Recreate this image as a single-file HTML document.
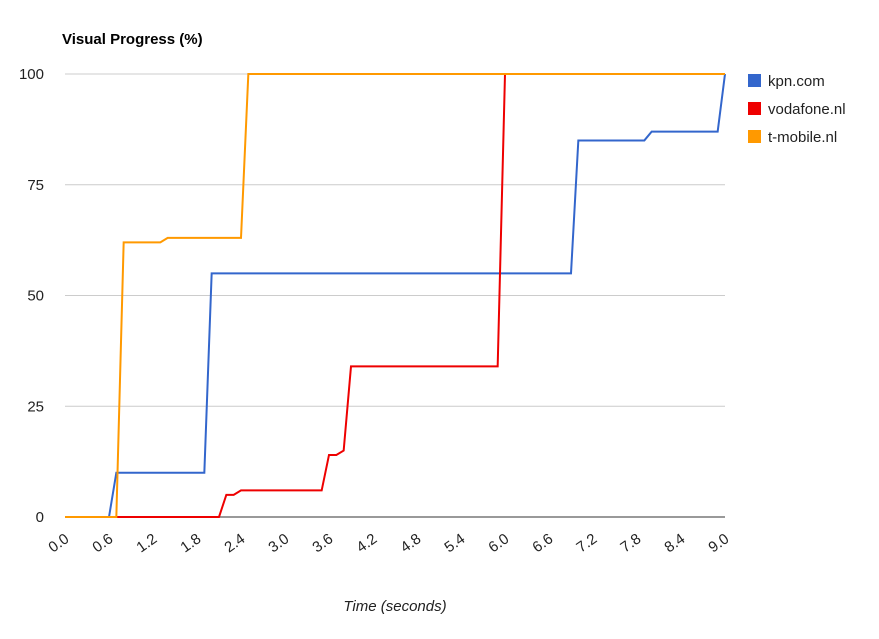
<!DOCTYPE html>
<html><head><meta charset="utf-8"><style>
body{margin:0;background:#fff;font-family:"Liberation Sans",Arial,sans-serif}
svg text{font-family:"Liberation Sans",Arial,sans-serif}
</style></head><body>
<svg id="c" width="879" height="634">
<text x="62" y="44" font-size="15" font-weight="bold" fill="#000">Visual Progress (%)</text>
<text x="395" y="611" font-size="15" font-style="italic" fill="#222" text-anchor="middle">Time (seconds)</text>
<g id="grid"></g><g id="series"></g><g id="legend"></g>
</svg>
<script>
const yTicks=[0,25,50,75,100];
const xTicks=["0.0","0.6","1.2","1.8","2.4","3.0","3.6","4.2","4.8","5.4","6.0","6.6","7.2","7.8","8.4","9.0"];
const seriesNames=["kpn.com","vodafone.nl","t-mobile.nl"];
const seriesColors=["#3366cc","#ee0000","#ff9900"];
const kpnT=[0,0.6,0.7,1.9,2.0,6.9,7.0,7.9,8.0,8.9,9.0];
const kpnV=[0,0,10,10,55,55,85,85,87,87,100];
const vodT=[0,2.1,2.2,2.3,2.4,3.5,3.6,3.7,3.8,3.9,5.9,6.0,9.0];
const vodV=[0,0,5,5,6,6,14,14,15,34,34,100,100];
const tmoT=[0,0.7,0.8,1.3,1.4,2.4,2.5,9.0];
const tmoV=[0,0,62,62,63,63,100,100];
const X=t=>65+t*(660/9), Y=v=>517-v*4.43;
const NS="http://www.w3.org/2000/svg";
const mk=(tag,at,p)=>{const e=document.createElementNS(NS,tag);for(const k in at)e.setAttribute(k,at[k]);p.appendChild(e);return e;};
const g=document.getElementById('grid');
yTicks.forEach(v=>{
 const l=mk('line',{x1:65,x2:725,y1:Y(v),y2:Y(v),stroke:v===0?'#333':'#ccc','stroke-width':1},g);
 
 
 const t=mk('text',{x:44,y:Y(v)+5,'font-size':15,'text-anchor':'end',fill:'#222'},g);t.textContent=v;
 
 
});
xTicks.forEach(s=>{
 const x=X(parseFloat(s));
 const t=mk('text',{x:x+5,y:541,'font-size':15,'text-anchor':'end',fill:'#222',transform:`rotate(-35 ${x+5} 541)`},g);t.textContent=s;
 
 
});
const sg=document.getElementById('series');
[[kpnT,kpnV],[vodT,vodV],[tmoT,tmoV]].forEach((d,i)=>{
 const pts=d[0].map((t,j)=>X(t)+','+Y(d[1][j])).join(' ');
 const p=mk('polyline',{points:pts,fill:'none',stroke:seriesColors[i],'stroke-width':2},sg);
 
 
});
const lg=document.getElementById('legend');
seriesNames.forEach((n,i)=>{
 const y=74+i*28;
 const r=mk('rect',{x:748,y:y,width:13,height:13,fill:seriesColors[i]},lg);
 
 
 const t=mk('text',{x:768,y:y+12,'font-size':15,fill:'#222'},lg);t.textContent=n;
 
 
});
</script>
</body></html>
